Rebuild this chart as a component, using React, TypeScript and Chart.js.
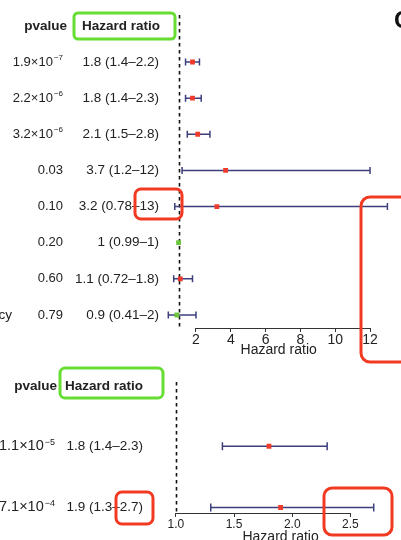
import React, { useEffect, useRef } from 'react';
import { Chart, registerables } from 'chart.js';

Chart.register(...registerables);

// ---------- Top panel data ----------
const topRowLabels = ['', '', '', '', '', '', '', 'Frequency'];
const topPvalueBase = ['1.9×10', '2.2×10', '3.2×10', '0.03', '0.10', '0.20', '0.60', '0.79'];
const topPvalueExp = ['−7', '−6', '−6', '', '', '', '', ''];
const topHrText = ['1.8 (1.4–2.2)', '1.8 (1.4–2.3)', '2.1 (1.5–2.8)', '3.7 (1.2–12)', '3.2 (0.78–13)', '1 (0.99–1)', '1.1 (0.72–1.8)', '0.9 (0.41–2)'];
const topHr = [1.8, 1.8, 2.1, 3.7, 3.2, 1, 1.1, 0.9];
const topLower = [1.4, 1.4, 1.5, 1.2, 0.78, 0.99, 0.72, 0.41];
const topUpper = [2.2, 2.3, 2.8, 12, 13, 1, 1.8, 2];
const topRed = [true, true, true, true, true, false, true, false];
const topTicks = [2, 4, 6, 8, 10, 12];

// ---------- Bottom panel data ----------
const botPvalueBase = ['1.1×10', '7.1×10'];
const botPvalueExp = ['−5', '−4'];
const botHrText = ['1.8 (1.4–2.3)', '1.9 (1.3–2.7)'];
const botHr = [1.8, 1.9];
const botLower = [1.4, 1.3];
const botUpper = [2.3, 2.7];
const botRed = [true, true];
const botTicks = [1.0, 1.5, 2.0, 2.5];

const FONT = "'Liberation Sans', Arial, Helvetica, sans-serif";
const TEXT_COLOR = '#222';
const CI_COLOR = '#3c3f7c';
const RED_PT = '#ee3b2b';
const GREEN_PT = '#6cc53c';
const BOX_GREEN = '#66dd33';
const BOX_RED = '#f23a22';

function roundRect(ctx: CanvasRenderingContext2D, x1: number, y1: number, x2: number, y2: number, r: number, color: string) {
  ctx.save();
  ctx.strokeStyle = color;
  ctx.lineWidth = 3;
  ctx.beginPath();
  ctx.moveTo(x1 + r, y1);
  ctx.lineTo(x2 - r, y1);
  ctx.arcTo(x2, y1, x2, y1 + r, r);
  ctx.lineTo(x2, y2 - r);
  ctx.arcTo(x2, y2, x2 - r, y2, r);
  ctx.lineTo(x1 + r, y2);
  ctx.arcTo(x1, y2, x1, y2 - r, r);
  ctx.lineTo(x1, y1 + r);
  ctx.arcTo(x1, y1, x1 + r, y1, r);
  ctx.closePath();
  ctx.stroke();
  ctx.restore();
}

function drawPvalue(ctx: CanvasRenderingContext2D, base: string, exp: string, xRight: number, y: number, size: number) {
  ctx.save();
  ctx.fillStyle = TEXT_COLOR;
  ctx.textBaseline = 'middle';
  ctx.textAlign = 'right';
  let xr = xRight;
  if (exp) {
    ctx.font = `${Math.round(size * 0.62)}px ${FONT}`;
    ctx.fillText(exp, xr, y - 4);
    xr -= ctx.measureText(exp).width + 1;
  }
  ctx.font = `${size}px ${FONT}`;
  ctx.fillText(base, xr, y);
  ctx.restore();
}

type PanelCfg = {
  hr: number[];
  lower: number[];
  upper: number[];
  red: boolean[];
  ticks: number[];
  capHalf: number;
  draw: (chart: any) => void;
};

function makePlugin(cfg: PanelCfg) {
  return {
    id: 'forestPanel',
    beforeDatasetsDraw(chart: any) {
      const ctx: CanvasRenderingContext2D = chart.ctx;
      const xs = chart.scales.x;
      const ys = chart.scales.y;
      const area = chart.chartArea;
      // reference dashed line at HR = 1
      const x1 = Math.round(xs.getPixelForValue(1)) + 0.5;
      ctx.save();
      ctx.strokeStyle = '#111';
      ctx.lineWidth = 1.6;
      ctx.setLineDash([3.5, 3.5]);
      ctx.beginPath();
      ctx.moveTo(x1, area.top);
      ctx.lineTo(x1, area.bottom);
      ctx.stroke();
      ctx.restore();
      // axis line from first to last tick
      const t0 = xs.getPixelForValue(cfg.ticks[0]);
      const t1 = xs.getPixelForValue(cfg.ticks[cfg.ticks.length - 1]);
      ctx.save();
      ctx.strokeStyle = '#333';
      ctx.lineWidth = 1;
      ctx.beginPath();
      ctx.moveTo(t0, Math.round(xs.top) + 0.5);
      ctx.lineTo(t1, Math.round(xs.top) + 0.5);
      ctx.stroke();
      ctx.restore();
      // confidence intervals
      ctx.save();
      ctx.strokeStyle = CI_COLOR;
      ctx.lineWidth = 1.5;
      cfg.hr.forEach((_, i) => {
        const y = ys.getPixelForValue(i + 1);
        const a = xs.getPixelForValue(cfg.lower[i]);
        const b = xs.getPixelForValue(cfg.upper[i]);
        if (b - a < 1) return;
        ctx.beginPath();
        ctx.moveTo(a, y);
        ctx.lineTo(b, y);
        ctx.moveTo(a, y - cfg.capHalf);
        ctx.lineTo(a, y + cfg.capHalf);
        ctx.moveTo(b, y - cfg.capHalf);
        ctx.lineTo(b, y + cfg.capHalf);
        ctx.stroke();
      });
      ctx.restore();
    },
    afterDraw(chart: any) {
      cfg.draw(chart);
    },
  };
}

function ForestPanel(props: {
  width: number;
  height: number;
  top: number;
  cfg: PanelCfg;
  xMin: number;
  xMax: number;
  yMin: number;
  yMax: number;
  padding: { left: number; right: number; top: number; bottom: number };
  axisHeight: number;
  tickFont: number;
  titleFont: number;
  titlePadBottom: number;
  tickFmt: (v: number) => string;
  pointRadius: number;
}) {
  const ref = useRef<HTMLCanvasElement | null>(null);
  useEffect(() => {
    if (!ref.current) return;
    const { cfg } = props;
    const chart = new Chart(ref.current, {
      type: 'scatter',
      data: {
        datasets: [
          {
            data: cfg.hr.map((v, i) => ({ x: v, y: i + 1 })),
            pointStyle: 'rect',
            pointRadius: props.pointRadius,
            pointBorderWidth: 0,
            pointBackgroundColor: cfg.red.map((r) => (r ? RED_PT : GREEN_PT)),
            showLine: false,
          },
        ],
      },
      options: {
        animation: false,
        responsive: false,
        events: [],
        layout: { padding: props.padding },
        plugins: { legend: { display: false }, tooltip: { enabled: false } },
        scales: {
          x: {
            type: 'linear',
            min: props.xMin,
            max: props.xMax,
            afterBuildTicks: (scale: any) => {
              scale.ticks = cfg.ticks.map((v) => ({ value: v }));
            },
            afterFit: (scale: any) => {
              scale.height = props.axisHeight;
            },
            grid: {
              display: true,
              drawOnChartArea: false,
              drawTicks: true,
              tickLength: 4,
              color: '#333',
              lineWidth: 1,
            },
            border: { display: false },
            ticks: {
              padding: 0,
              color: TEXT_COLOR,
              font: { family: FONT, size: props.tickFont },
              maxRotation: 0,
              autoSkip: false,
              callback: (v: any) => props.tickFmt(Number(v)),
            },
            title: {
              display: true,
              text: 'Hazard ratio',
              color: TEXT_COLOR,
              font: { family: FONT, size: props.titleFont },
              padding: { top: 0, bottom: props.titlePadBottom },
            },
          },
          y: {
            type: 'linear',
            reverse: true,
            min: props.yMin,
            max: props.yMax,
            display: false,
          },
        },
      },
      plugins: [makePlugin(cfg)],
    });
    return () => chart.destroy();
  }, []);
  return (
    <canvas
      ref={ref}
      width={props.width}
      height={props.height}
      style={{ position: 'absolute', left: 0, top: props.top, width: props.width, height: props.height, display: 'block' }}
    />
  );
}

const topCfg: PanelCfg = {
  hr: topHr,
  lower: topLower,
  upper: topUpper,
  red: topRed,
  ticks: topTicks,
  capHalf: 3.5,
  draw: (chart: any) => {
    const ctx: CanvasRenderingContext2D = chart.ctx;
    const ys = chart.scales.y;
    ctx.save();
    ctx.fillStyle = TEXT_COLOR;
    ctx.textBaseline = 'middle';
    // headers
    ctx.font = `bold 13.5px ${FONT}`;
    ctx.textAlign = 'right';
    ctx.fillText('pvalue', 67, 26);
    ctx.textAlign = 'left';
    ctx.fillText('Hazard ratio', 82, 26);
    // rows
    topHr.forEach((_, i) => {
      const y = ys.getPixelForValue(i + 1);
      if (topRowLabels[i]) {
        ctx.font = `13.5px ${FONT}`;
        ctx.textAlign = 'right';
        ctx.fillStyle = TEXT_COLOR;
        ctx.fillText(topRowLabels[i], 12, y);
      }
      drawPvalue(ctx, topPvalueBase[i], topPvalueExp[i], 63, y, 13);
      ctx.font = `13.5px ${FONT}`;
      ctx.textAlign = 'right';
      ctx.fillStyle = TEXT_COLOR;
      ctx.fillText(topHrText[i], 159, y);
    });
    // clipped panel letter
    ctx.font = `bold 24px ${FONT}`;
    ctx.textAlign = 'left';
    ctx.fillStyle = '#111';
    ctx.fillText('C', 394, 21);
    ctx.restore();
    // annotation boxes
    roundRect(ctx, 74, 13, 175, 39, 4, BOX_GREEN);
    roundRect(ctx, 135, 189, 182, 219, 6, BOX_RED);
    roundRect(ctx, 361, 197, 420, 362, 9, BOX_RED);
  },
};

const botCfg: PanelCfg = {
  hr: botHr,
  lower: botLower,
  upper: botUpper,
  red: botRed,
  ticks: botTicks,
  capHalf: 4,
  draw: (chart: any) => {
    const ctx: CanvasRenderingContext2D = chart.ctx;
    const ys = chart.scales.y;
    ctx.save();
    ctx.fillStyle = TEXT_COLOR;
    ctx.textBaseline = 'middle';
    ctx.font = `bold 13.5px ${FONT}`;
    ctx.textAlign = 'right';
    ctx.fillText('pvalue', 57, 20);
    ctx.textAlign = 'left';
    ctx.fillText('Hazard ratio', 65, 20);
    botHr.forEach((_, i) => {
      const y = ys.getPixelForValue(i + 1);
      drawPvalue(ctx, botPvalueBase[i], botPvalueExp[i], 55, y, 14.5);
      ctx.font = `13.5px ${FONT}`;
      ctx.textAlign = 'right';
      ctx.fillStyle = TEXT_COLOR;
      ctx.fillText(botHrText[i], 143, y);
    });
    ctx.restore();
    roundRect(ctx, 60, 2, 163, 32, 5, BOX_GREEN);
    roundRect(ctx, 116, 126, 153, 158, 6, BOX_RED);
    roundRect(ctx, 324, 122, 392, 169, 8, BOX_RED);
  },
};

export default function App() {
  return (
    <div style={{ position: 'fixed', left: 0, top: 0, width: 401, height: 540, overflow: 'hidden', background: '#fff' }}>
      <ForestPanel
        width={401}
        height={366}
        top={0}
        cfg={topCfg}
        xMin={0.3}
        xMax={13.2}
        yMin={-0.3}
        yMax={8.36}
        padding={{ left: 166.4, right: 10.1, top: 15, bottom: 0 }}
        axisHeight={38}
        tickFont={14}
        titleFont={14}
        titlePadBottom={7.6}
        tickFmt={(v) => String(v)}
        pointRadius={3.4}
      />
      <ForestPanel
        width={401}
        height={184}
        top={366}
        cfg={botCfg}
        xMin={0.9}
        xMax={2.9}
        yMin={-0.05}
        yMax={2.09}
        padding={{ left: 164.2, right: 0.8, top: 16, bottom: 0 }}
        axisHeight={37}
        tickFont={12}
        titleFont={14}
        titlePadBottom={4.6}
        tickFmt={(v) => v.toFixed(1)}
        pointRadius={3.4}
      />
    </div>
  );
}
